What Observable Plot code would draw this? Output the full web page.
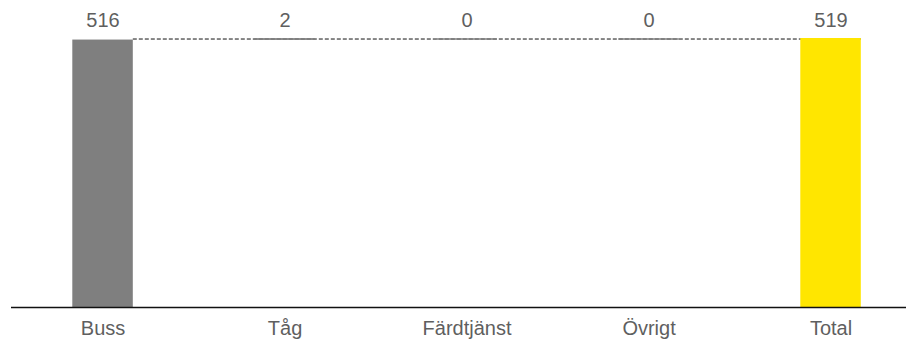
<!DOCTYPE html>
<html>
<head>
<meta charset="utf-8">
<script src="https://cdn.jsdelivr.net/npm/d3@7"></script>
<script src="https://cdn.jsdelivr.net/npm/@observablehq/plot@0.6"></script>
<style>
  html, body { margin: 0; padding: 0; background: #fff; }
</style>
</head>
<body>
<div id="chart"></div>
<script>
const categories = ["Buss", "Tåg", "Färdtjänst", "Övrigt", "Total"];
const values = [516, 2, 0, 0, 519];
const kinds = ["base", "delta", "delta", "delta", "total"];

// waterfall table built from the arrays
let cum = 0;
const rows = categories.map((c, i) => {
  const v = values[i], k = kinds[i];
  let y1, y2;
  if (k === "total") { y1 = 0; y2 = v; }
  else { y1 = cum; y2 = cum + v; cum += v; }
  return {cat: c, value: v, kind: k, y1, y2};
});
const level = cum;

const W = 907, H = 341;
const mL = 11, mR = 1, mT = 38, mB = 34;
const xOpts = {
  type: "band",
  domain: categories,
  range: [mL, W - mR],
  paddingInner: 0.6676,
  paddingOuter: 0.2926,
  align: 0.5756,
  round: false
};
const bw = Plot.scale({x: xOpts}).bandwidth;

const colors = {base: "#7f7f7f", delta: "#7f7f7f", total: "#ffe600"};

const chart = Plot.plot({
  width: W,
  height: H,
  marginLeft: mL,
  marginRight: mR,
  marginTop: mT,
  marginBottom: mB,
  style: {fontFamily: "'Liberation Sans', Arial, sans-serif", fontSize: "20px", color: "#5f5f5f", background: "#fff"},
  x: {...xOpts, label: null, tickSize: 0, tickPadding: 13.5},
  y: {domain: [0, 519], axis: null},
  marks: [
    Plot.ruleY([{a: categories[0], b: categories[categories.length - 1], y: level}], {
      x1: "a", x2: "b", y: "y", insetLeft: bw, stroke: "#111", strokeWidth: 1, strokeDasharray: "4,2"
    }),
    Plot.rectY(rows.filter(d => d.kind !== "delta"), {
      x: "cat", y1: "y1", y2: "y2", fill: d => colors[d.kind]
    }),
    Plot.rectY(rows.filter(d => d.kind === "delta"), {
      x: "cat", y1: "y1", y2: "y2", fill: colors.delta
    }),
    Plot.tickY(rows.filter(d => d.kind === "delta"), {
      x: "cat", y: "y2", stroke: colors.delta, strokeWidth: 1.6
    }),
    Plot.text(rows, {
      x: "cat", frameAnchor: "top", dy: -25.5, text: d => String(d.value), fill: "#5f5f5f"
    }),
    Plot.ruleY([0], {stroke: "#111", strokeWidth: 1.6})
  ]
});
document.getElementById("chart").appendChild(chart);
</script>
</body>
</html>
